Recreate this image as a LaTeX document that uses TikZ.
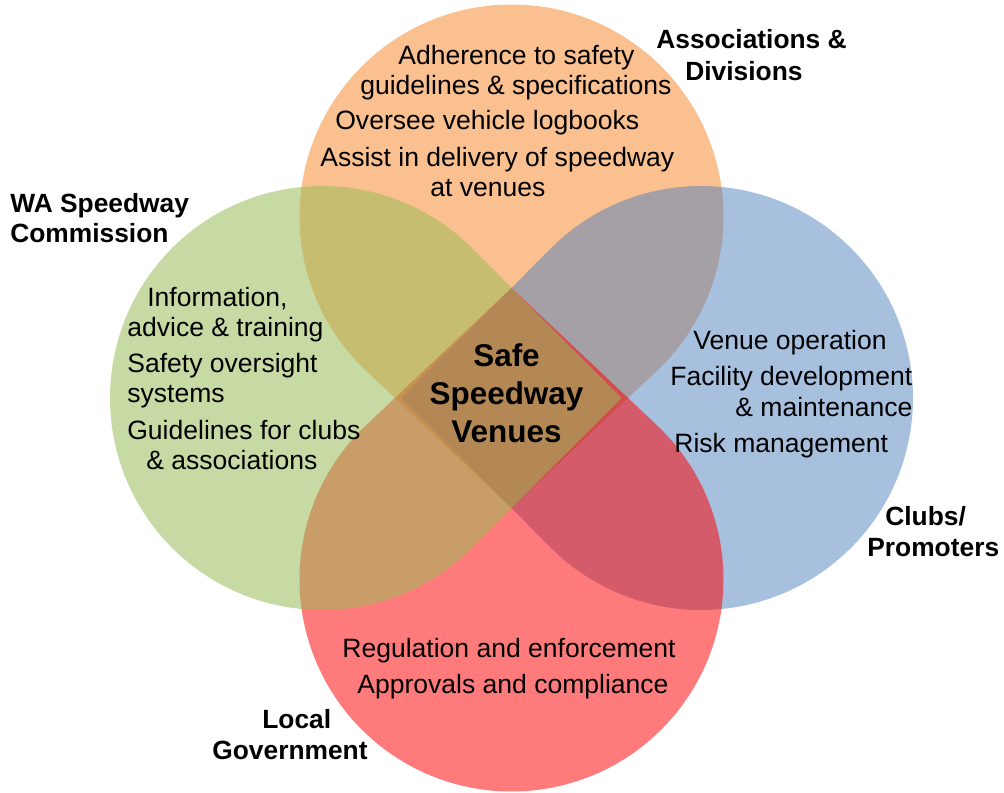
\documentclass[tikz,border=0pt]{standalone}
\usepackage{fontspec}
\setmainfont{Liberation Sans}
\usepackage{tikz}
\usetikzlibrary{calc}
\definecolor{assocorange}{HTML}{F79646}
\definecolor{clubblue}{HTML}{4F81BD}
\definecolor{localred}{HTML}{FF0000}
\definecolor{commgreen}{HTML}{9BBB59}
\tikzset{
   item/.style={anchor=base west, inner sep=0pt,
      font=\fontsize{15.1}{18}\selectfont},
   group/.style={anchor=base west, inner sep=0pt,
      font=\fontsize{15}{18}\selectfont\bfseries},
   hub/.style={anchor=base, inner sep=0pt,
      font=\fontsize{17.9}{21}\selectfont\bfseries},
    }

\begin{document}
\begin{tikzpicture}[x=0.02cm,y=-0.02cm]
            \useasboundingbox (0,0) rectangle (1004,793);
            % centres and tips of the petals
            \coordinate (orangeC) at (511.5,216.5);
            \coordinate (orangeP) at (511.5,508);
            \coordinate (blueC) at (701,398);
            \coordinate (blueP) at (401.5,398);
            \coordinate (redC) at (511.5,579.5);
            \coordinate (redP) at (511.5,288);
            \coordinate (greenC) at (322,398);
            \coordinate (greenP) at (621.5,398);
            \fill[assocorange, fill opacity=.6](orangeP)--($(orangeC)+(133.34:212)$)
               arc[start angle=133.34, end angle=406.66, radius=212]--cycle;
            \fill[clubblue, fill opacity=.5](blueP)--($(blueC)+(224.94:212)$)
               arc[start angle=224.94, end angle=495.06, radius=212]--cycle;
            \fill[localred, fill opacity=.52](redP)--($(redC)+(313.34:212)$)
               arc[start angle=313.34, end angle=586.66, radius=212]--cycle;
            \fill[commgreen, fill opacity=.55](greenP)--($(greenC)+(44.94:212)$)
               arc[start angle=44.94, end angle=315.06, radius=212]--cycle;
            % Associations & Divisions
            \node[item] (adhere1) at (398,65) {Adherence to safety};
            \node[item] (adhere2) at (360,95) {guidelines \& specifications};
            \node[item] (oversee) at (335,130) {Oversee vehicle logbooks};
            \node[item] (assist1) at (320,167) {Assist in delivery of speedway};
            \node[item] (assist2) at (430,197) {at venues};
            \node[group] (assoc1) at (656,49) {Associations \&};
            \node[group] (assoc2) at (685,81) {Divisions};
            % WA Speedway Commission
            \node[item] (info1) at (147,307) {Information,};
            \node[item] (info2) at (127,337) {advice \& training};
            \node[item] (safety1) at (127,373) {Safety oversight};
            \node[item] (safety2) at (127,403) {systems};
            \node[item] (guide1) at (127,440) {Guidelines for clubs};
            \node[item] (guide2) at (146,470) {\& associations};
            \node[group] (comm1) at (10,213) {WA Speedway};
            \node[group] (comm2) at (10,243) {Commission};
            % Clubs/Promoters
            \node[item] (venue) at (693,350) {Venue operation};
            \node[item] (facility1) at (670,386) {Facility development};
            \node[item] (facility2) at (735,417) {\& maintenance};
            \node[item] (risk) at (674,453) {Risk management};
            \node[group] (clubs1) at (885,525) {Clubs/};
            \node[group] (clubs2) at (867,557) {Promoters};
            % Local Government
            \node[item] (regulate) at (342,657) {Regulation and enforcement};
            \node[item] (approve) at (357,693) {Approvals and compliance};
            \node[group] (local1) at (262,728) {Local};
            \node[group] (local2) at (212,759) {Government};
            % centre
            \node[hub] (safe) at (506.5,367) {Safe};
            \node[hub] (speedway) at (506.5,405) {Speedway};
            \node[hub] (venues) at (506.5,443) {Venues};
        \end{tikzpicture}
\end{document}
